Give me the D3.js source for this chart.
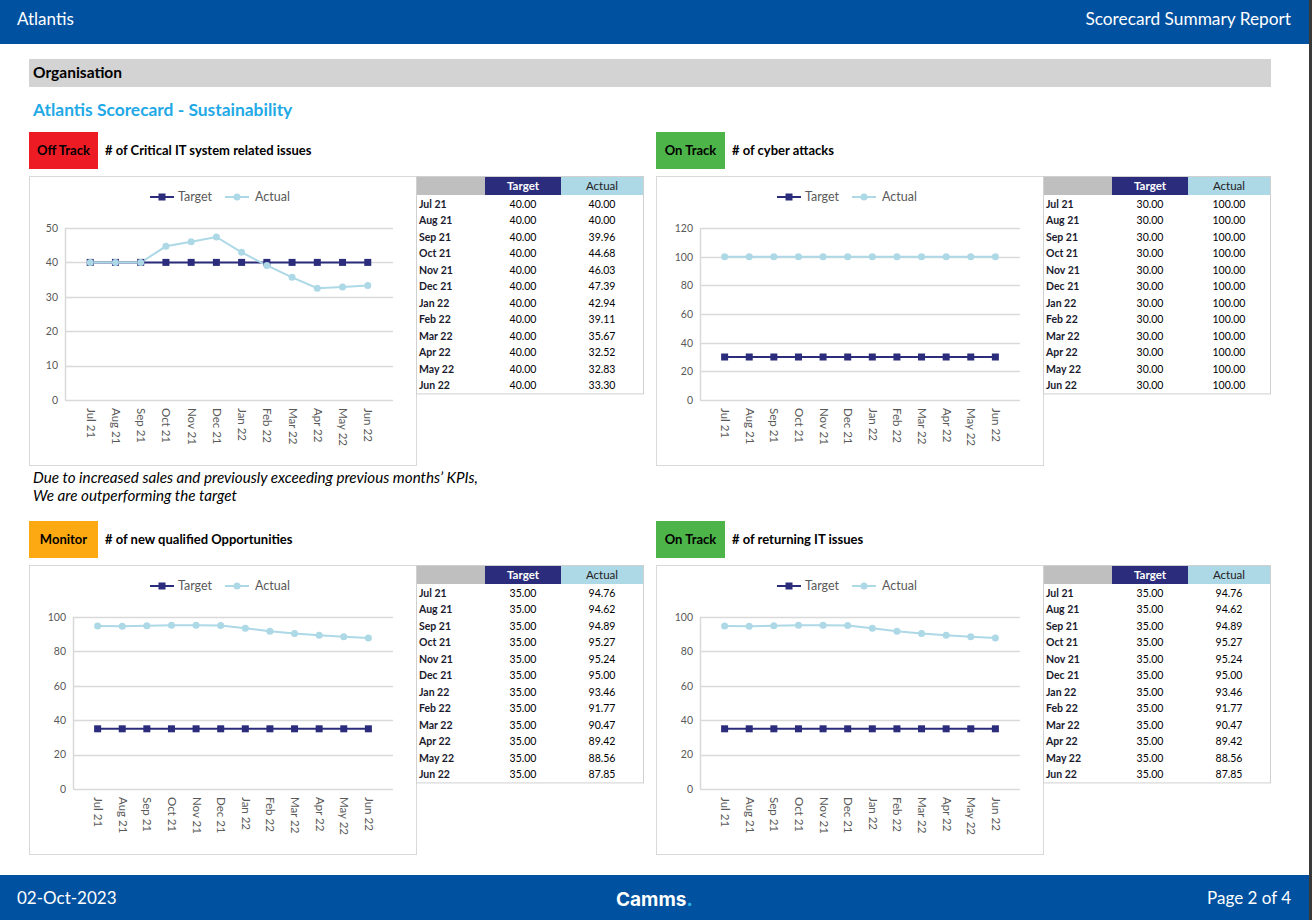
<!DOCTYPE html>
<html>
<head>
<meta charset="utf-8">
<script src="https://cdn.jsdelivr.net/npm/d3@7"></script>
<style>
  body { margin: 0; background: #fff; }
  svg { display: block; font-family: Lato, "Open Sans", sans-serif; }
</style>
</head>
<body>
<svg width="1312" height="920"></svg>
<script>
// months shared by every KPI
const months = ["Jul 21","Aug 21","Sep 21","Oct 21","Nov 21","Dec 21",
                "Jan 22","Feb 22","Mar 22","Apr 22","May 22","Jun 22"];

// KPI titles and status
const kpiTitles = ["# of Critical IT system related issues", "# of cyber attacks",
                   "# of new qualified Opportunities", "# of returning IT issues"];
const kpiStatus = ["Off Track", "On Track", "Monitor", "On Track"];

// series values
const criticalTarget = [40,40,40,40,40,40,40,40,40,40,40,40];
const criticalActual = [40.00,40.00,39.96,44.68,46.03,47.39,42.94,39.11,35.67,32.52,32.83,33.30];
const cyberTarget = [30,30,30,30,30,30,30,30,30,30,30,30];
const cyberActual = [100,100,100,100,100,100,100,100,100,100,100,100];
const oppTarget = [35,35,35,35,35,35,35,35,35,35,35,35];
const oppActual = [94.76,94.62,94.89,95.27,95.24,95.00,93.46,91.77,90.47,89.42,88.56,87.85];
const returnTarget = [35,35,35,35,35,35,35,35,35,35,35,35];
const returnActual = [94.76,94.62,94.89,95.27,95.24,95.00,93.46,91.77,90.47,89.42,88.56,87.85];

// y axis tick values for each chart
const criticalTicks = [0,10,20,30,40,50];
const cyberTicks = [0,20,40,60,80,100,120];
const oppTicks = [0,20,40,60,80,100];
const returnTicks = [0,20,40,60,80,100];

const comment = ["Due to increased sales and previously exceeding previous months\u2019 KPIs,",
                 "We are outperforming the target"];

const statusColour = {"Off Track": "#ED1C24", "On Track": "#4DB449", "Monitor": "#FDAA12"};
const targetColour = "#2B2D7C";
const actualColour = "#ADD8E6";
const axisText = "#595959";

const svg = d3.select("svg");

// header and footer bands
svg.append("rect").attr("x", 0).attr("y", 0).attr("width", 1312).attr("height", 44).attr("fill", "#00519F");
svg.append("rect").attr("x", 0).attr("y", 875).attr("width", 1312).attr("height", 45).attr("fill", "#00519F");
svg.append("rect").attr("x", 1309).attr("y", 0).attr("width", 3).attr("height", 920).attr("fill", "#3a3a3a");

svg.append("text").attr("x", 17).attr("y", 25).attr("fill", "#fff")
   .style("font-size", "17px").text("Atlantis");
svg.append("text").attr("x", 1291).attr("y", 25).attr("fill", "#fff").attr("text-anchor", "end")
   .style("font-size", "17.3px").text("Scorecard Summary Report");
svg.append("text").attr("x", 17).attr("y", 904).attr("fill", "#fff")
   .style("font-size", "17px").text("02-Oct-2023");
svg.append("text").attr("x", 1291).attr("y", 904).attr("fill", "#fff").attr("text-anchor", "end")
   .style("font-size", "17px").text("Page 2 of 4");
let logo = svg.append("text").attr("x", 616).attr("y", 906).attr("fill", "#fff")
   .style("font-size", "19px").style("font-weight", "bold").style("font-family", "Inter, Roboto, sans-serif");
logo.append("tspan").text("Camms");
logo.append("tspan").attr("fill", "#29B6E8").text(".");

// organisation bar + title
svg.append("rect").attr("x", 29).attr("y", 59).attr("width", 1242).attr("height", 28).attr("fill", "#D3D3D3");
svg.append("text").attr("x", 33).attr("y", 78).style("font-size", "15.5px").style("font-weight", "bold")
   .text("Organisation");
svg.append("text").attr("x", 33).attr("y", 116).attr("fill", "#1FA9E6")
   .style("font-size", "17.4px").style("font-weight", "bold").text("Atlantis Scorecard - Sustainability");

// comment under first chart
svg.append("g").selectAll("text").data(comment).enter().append("text")
   .attr("x", 33).attr("y", (d, i) => 483 + i * 18)
   .style("font-size", "15.2px").style("font-style", "italic")
   .text(d => d);

function drawPanel(px, py, title, status, target, actual, ticks) {
  let g = svg.append("g");

  // status box + title
  g.append("rect").attr("x", px).attr("y", py).attr("width", 69).attr("height", 37)
   .attr("fill", statusColour[status]);
  g.append("text").attr("x", px + 34.5).attr("y", py + 23).attr("text-anchor", "middle")
   .style("font-size", "13px").style("font-weight", "bold").text(status);
  g.append("text").attr("x", px + 76).attr("y", py + 23)
   .style("font-size", "13px").style("font-weight", "bold").text(title);

  // chart frame
  let bx = px, by = py + 44;
  g.append("rect").attr("x", bx + 0.5).attr("y", by + 0.5).attr("width", 387).attr("height", 289)
   .attr("fill", "#fff").attr("stroke", "#D9D9D9");

  let maxLen = d3.max(ticks, t => String(t).length);
  let left = bx + 20 + 8 * maxLen, right = bx + 364;
  let top = by + 52, bottom = by + 224;

  let x = d3.scalePoint().domain(months).range([left, right]).padding(1);
  let y = d3.scaleLinear().domain([0, d3.max(ticks)]).range([bottom, top]);

  // gridlines
  g.append("g").selectAll("line").data(ticks).enter().append("line")
   .attr("x1", left).attr("x2", right)
   .attr("y1", d => Math.round(y(d)) + 0.5).attr("y2", d => Math.round(y(d)) + 0.5)
   .attr("stroke", "#D9D9D9").attr("stroke-width", 1.5);
  g.append("line").attr("x1", left + 0.5).attr("x2", left + 0.5).attr("y1", top).attr("y2", bottom)
   .attr("stroke", "#D9D9D9").attr("stroke-width", 1.5);

  // y axis labels
  let yAxis = g.append("g").attr("transform", `translate(${left},0)`)
   .call(d3.axisLeft(y).tickValues(ticks).tickSize(0).tickPadding(7));
  yAxis.select(".domain").remove();
  yAxis.selectAll("text").attr("fill", axisText).style("font-size", "10.5px")
   .style("font-family", "Lato, sans-serif");

  // x axis labels, rotated
  let xAxis = g.append("g").attr("transform", `translate(0,${bottom})`)
   .call(d3.axisBottom(x).tickSize(0));
  xAxis.select(".domain").remove();
  xAxis.selectAll("text")
   .attr("fill", axisText).style("font-size", "11.5px").style("font-family", "Lato, sans-serif")
   .attr("transform", "rotate(90)").attr("text-anchor", "start")
   .attr("x", 8).attr("y", 0).attr("dy", "0.35em");

  let line = d3.line().x((d, i) => x(months[i])).y(d => y(d));

  g.append("path").datum(target).attr("d", line).attr("fill", "none")
   .attr("stroke", targetColour).attr("stroke-width", 2);
  g.append("path").datum(actual).attr("d", line).attr("fill", "none")
   .attr("stroke", actualColour).attr("stroke-width", 2);

  g.append("g").selectAll("rect").data(target).enter().append("rect")
   .attr("x", (d, i) => x(months[i]) - 3.5).attr("y", d => y(d) - 3.5)
   .attr("width", 7).attr("height", 7).attr("fill", targetColour);
  g.append("g").selectAll("circle").data(actual).enter().append("circle")
   .attr("cx", (d, i) => x(months[i])).attr("cy", d => y(d)).attr("r", 3.5)
   .attr("fill", actualColour);

  // legend
  let ly = by + 21;
  g.append("line").attr("x1", bx + 121).attr("x2", bx + 145).attr("y1", ly).attr("y2", ly)
   .attr("stroke", targetColour).attr("stroke-width", 2);
  g.append("rect").attr("x", bx + 129.5).attr("y", ly - 3.5).attr("width", 7).attr("height", 7)
   .attr("fill", targetColour);
  g.append("text").attr("x", bx + 149).attr("y", ly + 4).attr("fill", axisText)
   .style("font-size", "12.5px").text("Target");
  g.append("line").attr("x1", bx + 196).attr("x2", bx + 220).attr("y1", ly).attr("y2", ly)
   .attr("stroke", actualColour).attr("stroke-width", 2);
  g.append("circle").attr("cx", bx + 208).attr("cy", ly).attr("r", 3.5).attr("fill", actualColour);
  g.append("text").attr("x", bx + 226).attr("y", ly + 4).attr("fill", axisText)
   .style("font-size", "12.5px").text("Actual");

  // data table
  let tx = bx + 387, ty = by;
  let rowH = 16.45, headH = 20;
  g.append("rect").attr("x", tx + 0.5).attr("y", ty + 0.5).attr("width", 227).attr("height", headH + rowH * 12)
   .attr("fill", "#fff").attr("stroke", "#D0D0D0");
  g.append("rect").attr("x", tx + 1).attr("y", ty + 1).attr("width", 68).attr("height", headH - 2).attr("fill", "#BFBFBF");
  g.append("rect").attr("x", tx + 69).attr("y", ty + 1).attr("width", 76).attr("height", headH - 2).attr("fill", targetColour);
  g.append("rect").attr("x", tx + 145).attr("y", ty + 1).attr("width", 82).attr("height", headH - 2).attr("fill", actualColour);
  g.append("text").attr("x", tx + 107).attr("y", ty + 13.5).attr("text-anchor", "middle").attr("fill", "#fff")
   .style("font-size", "11.5px").style("font-weight", "bold").text("Target");
  g.append("text").attr("x", tx + 186).attr("y", ty + 13.5).attr("text-anchor", "middle").attr("fill", "#222")
   .style("font-size", "11.5px").text("Actual");

  let rows = g.append("g").selectAll("g").data(months).enter().append("g")
   .attr("transform", (d, i) => `translate(0,${ty + headH + rowH * i + 12})`);
  rows.append("text").attr("x", tx + 3).style("font-size", "10.5px").style("font-weight", "bold")
   .attr("fill", "#1a1a2e").text(d => d);
  rows.append("text").attr("x", tx + 107).attr("text-anchor", "middle").style("font-size", "10.5px")
   .text((d, i) => target[i].toFixed(2));
  rows.append("text").attr("x", tx + 186).attr("text-anchor", "middle").style("font-size", "10.5px")
   .text((d, i) => actual[i].toFixed(2));
}

drawPanel(29, 132, kpiTitles[0], kpiStatus[0], criticalTarget, criticalActual, criticalTicks);
drawPanel(656, 132, kpiTitles[1], kpiStatus[1], cyberTarget, cyberActual, cyberTicks);
drawPanel(29, 521, kpiTitles[2], kpiStatus[2], oppTarget, oppActual, oppTicks);
drawPanel(656, 521, kpiTitles[3], kpiStatus[3], returnTarget, returnActual, returnTicks);
</script>
</body>
</html>
